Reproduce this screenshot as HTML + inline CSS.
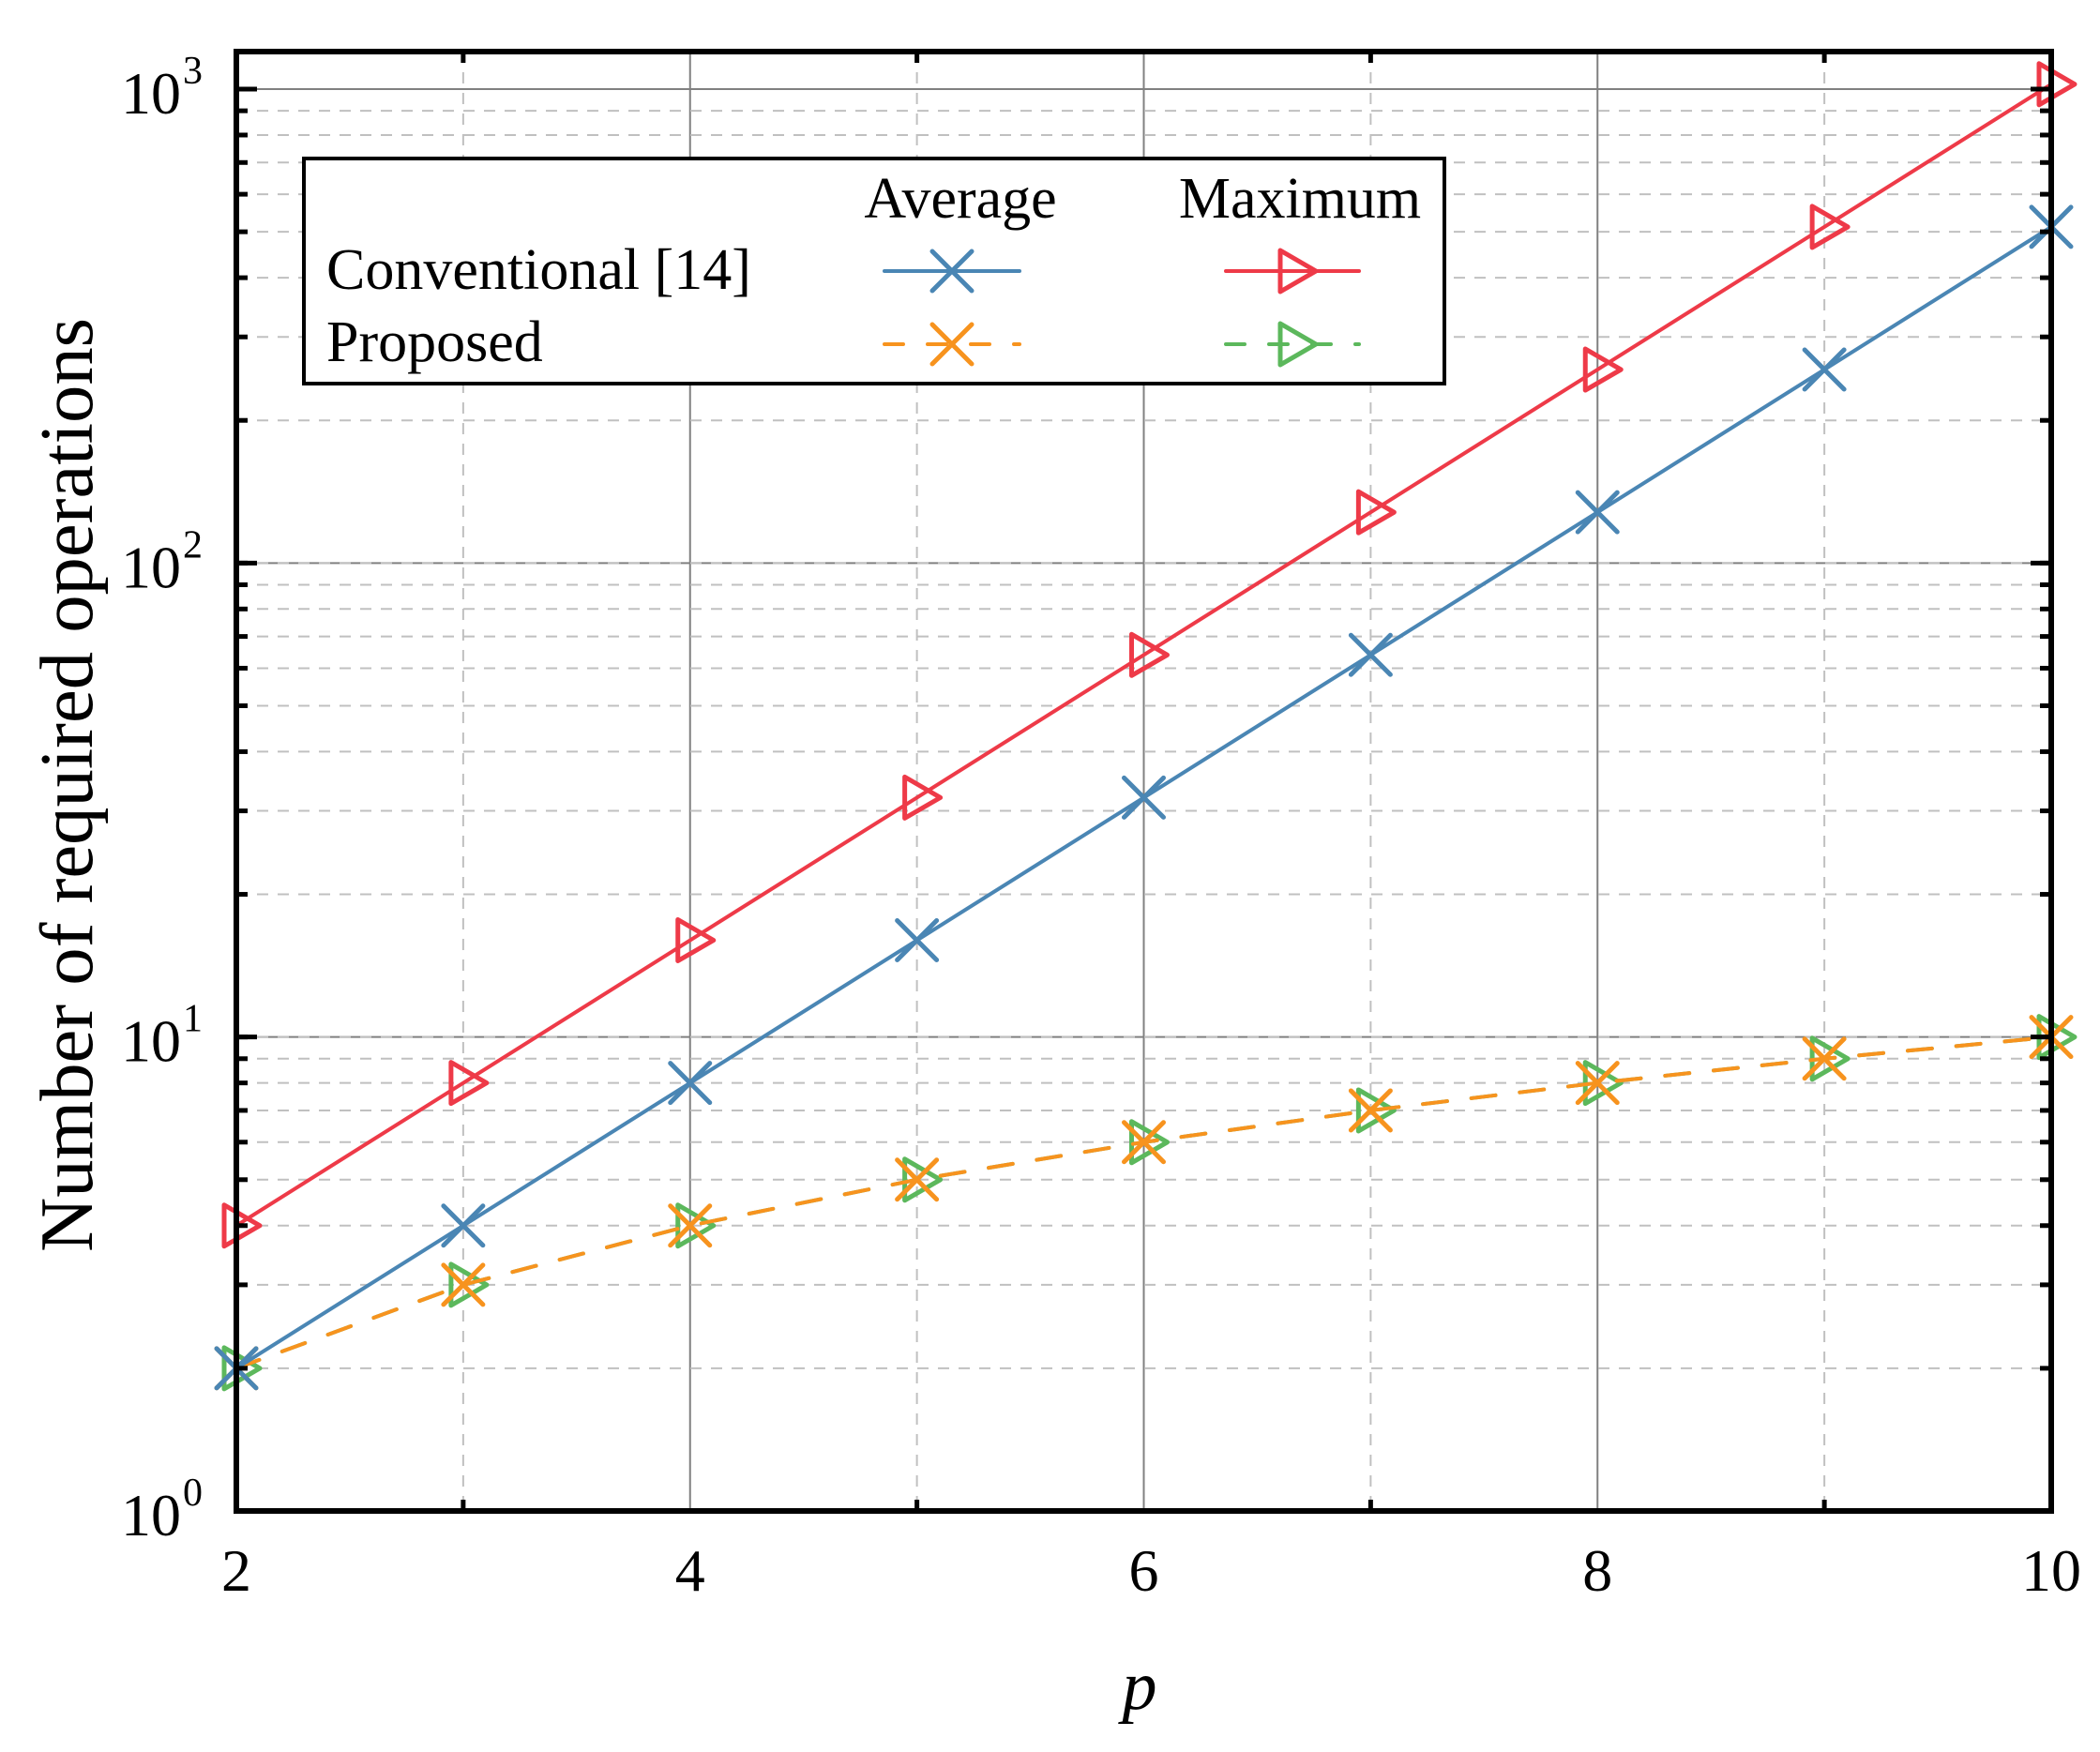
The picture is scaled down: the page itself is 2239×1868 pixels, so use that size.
<!DOCTYPE html>
<html><head><meta charset="utf-8"><style>
html,body{margin:0;padding:0;background:#fff;}
svg{display:block;font-family:"Liberation Serif",serif;}
</style></head><body>
<svg id="chart" width="2239" height="1868" viewBox="0 0 2239 1868" xmlns="http://www.w3.org/2000/svg">
<g id="grid"></g>
<g id="series"></g>
<g id="axes"></g>
<text transform="translate(98,837) rotate(-90)" text-anchor="middle" font-size="81" textLength="996" lengthAdjust="spacingAndGlyphs">Number of required operations</text>
<text x="1215" y="1822" text-anchor="middle" font-size="74" font-style="italic">p</text>
<g id="legend">
<rect x="324" y="169" width="1216" height="240" fill="#fff" stroke="#000" stroke-width="4"/>
<text x="1024" y="232" text-anchor="middle" font-size="62">Average</text>
<text x="1386" y="232" text-anchor="middle" font-size="62">Maximum</text>
<text x="348" y="308" font-size="62">Conventional [14]</text>
<text x="348" y="385" font-size="62">Proposed</text>
</g>
</svg>
<script>
const categories = [2,3,4,5,6,7,8,9,10];
const convAverage = [2,4,8,16,32,64,128,256,512];
const convMaximum = [4,8,16,32,64,128,256,512,1024];
const propAverage = [2,3,4,5,6,7,8,9,10];
const propMaximum = [2,3,4,5,6,7,8,9,10];
const xTicks = [2,4,6,8,10];
const yDecades = [0,1,2,3];

const NS = "http://www.w3.org/2000/svg";
const X0 = 252, X1 = 2187, Y0 = 1611, Y1 = 95, XT = 55;
const xs = v => X0 + (v - 2) / 8 * (X1 - X0);
const ys = v => Y0 - Math.log10(v) / 3 * (Y0 - Y1);
function mk(tag, attrs, parent){ const e = document.createElementNS(NS, tag); for (const k in attrs) e.setAttribute(k, attrs[k]); parent.appendChild(e); return e; }
const grid = document.getElementById('grid'), ser = document.getElementById('series'), axes = document.getElementById('axes'), leg = document.getElementById('legend');

// vertical grid
for (let v = 3; v <= 9; v++) {
  const l = mk('line', {x1: xs(v), x2: xs(v), y1: XT, y2: Y0, stroke: v % 2 ? '#c0c0c0' : '#808080', 'stroke-width': v % 2 ? 2 : 2, 'stroke-dasharray': v % 2 ? '12,10' : 'none'}, grid);
  
  
}
// horizontal grid
for (let d = 0; d < 3; d++) {
  for (let m = 1; m <= 10; m++) {
    const val = m * Math.pow(10, d);
    if (m === 1 && d === 0) continue;
    const y = ys(val);
    const major = m === 10;
    const l = mk('line', {x1: X0, x2: X1, y1: y, y2: y, stroke: major ? '#808080' : '#c0c0c0', 'stroke-width': 2, 'stroke-dasharray': major ? 'none' : '12,10'}, grid);
    
    
    // ticks
    const len = major ? 22 : 12;
    const t1 = mk('line', {x1: X0, x2: X0 + len, y1: y, y2: y, stroke: '#000', 'stroke-width': 5}, axes);
    
    
    const t2 = mk('line', {x1: X1, x2: X1 - len, y1: y, y2: y, stroke: '#000', 'stroke-width': 5}, axes);
    
    
  }
}
// x minor ticks
for (let v = 3; v <= 9; v += 2) {
  [[Y0, Y0 - 12], [XT, XT + 12]].forEach(p => {
    const t = mk('line', {x1: xs(v), x2: xs(v), y1: p[0], y2: p[1], stroke: '#000', 'stroke-width': 5}, axes);
    
    
  });
}
// frame
const fr = mk('rect', {x: X0, y: XT, width: X1 - X0, height: Y0 - XT, fill: 'none', stroke: '#000', 'stroke-width': 6}, axes);


// x labels
xTicks.forEach(v => {
  const t = mk('text', {x: xs(v), y: 1696, 'text-anchor': 'middle', 'font-size': 64}, axes);
  t.textContent = v;
  
  
});
// y labels
yDecades.forEach(d => {
  const t = mk('text', {x: 193, y: ys(Math.pow(10, d)) + 26, 'text-anchor': 'end', 'font-size': 64}, axes);
  t.textContent = '10';
  
  
  const s = mk('text', {x: 195, y: ys(Math.pow(10, d)) - 6, 'font-size': 42}, axes);
  s.textContent = d;
  
  
});

function xMarker(cx, cy, color, parent){
  const g = mk('path', {d: `M${cx-21},${cy-21}L${cx+21},${cy+21}M${cx-21},${cy+21}L${cx+21},${cy-21}`, stroke: color, 'stroke-width': 5, fill: 'none', 'stroke-linecap': 'round'}, parent);
  return g;
}
function triMarker(cx, cy, color, parent){
  return mk('path', {d: `M${cx-13},${cy-22}L${cx+25},${cy}L${cx-13},${cy+22}Z`, stroke: color, 'stroke-width': 5, fill: 'none', 'stroke-linejoin': 'round'}, parent);
}
function drawSeries(vals, color, dashed, marker, name){
  const g = mk('g', {}, ser);
  
  
  const d = vals.map((v, i) => (i ? 'L' : 'M') + xs(categories[i]) + ',' + ys(v)).join('');
  const p = mk('path', {d: d, stroke: color, 'stroke-width': 4, fill: 'none', 'stroke-dasharray': dashed ? '26,26' : 'none', 'stroke-linecap': 'round'}, g);
  
  
  vals.forEach((v, i) => {
    const m = marker(xs(categories[i]), ys(v), color, g);
    
    
  });
}
drawSeries(propMaximum, '#5cb85c', true, triMarker, 'proposed-maximum');
drawSeries(propAverage, '#f7931e', true, xMarker, 'proposed-average');
drawSeries(convAverage, '#4a86b4', false, xMarker, 'conventional-average');
drawSeries(convMaximum, '#ee3a48', false, triMarker, 'conventional-maximum');

// legend samples
function legSample(x1, x2, y, color, dashed, marker, name){
  const g = mk('g', {}, leg);
  
  
  const l = mk('line', {x1: x1, x2: x2, y1: y, y2: y, stroke: color, 'stroke-width': 4, 'stroke-dasharray': dashed ? '20,26' : 'none', 'stroke-linecap': 'round'}, g);
  
  
  const m = marker((x1 + x2) / 2, y, color, g);
  
  
}
legSample(943, 1087, 289, '#4a86b4', false, xMarker, 'legend-conventional-average');
legSample(1307, 1449, 289, '#ee3a48', false, triMarker, 'legend-conventional-maximum');
legSample(943, 1087, 367, '#f7931e', true, xMarker, 'legend-proposed-average');
legSample(1307, 1449, 367, '#5cb85c', true, triMarker, 'legend-proposed-maximum');
</script>
</body></html>
